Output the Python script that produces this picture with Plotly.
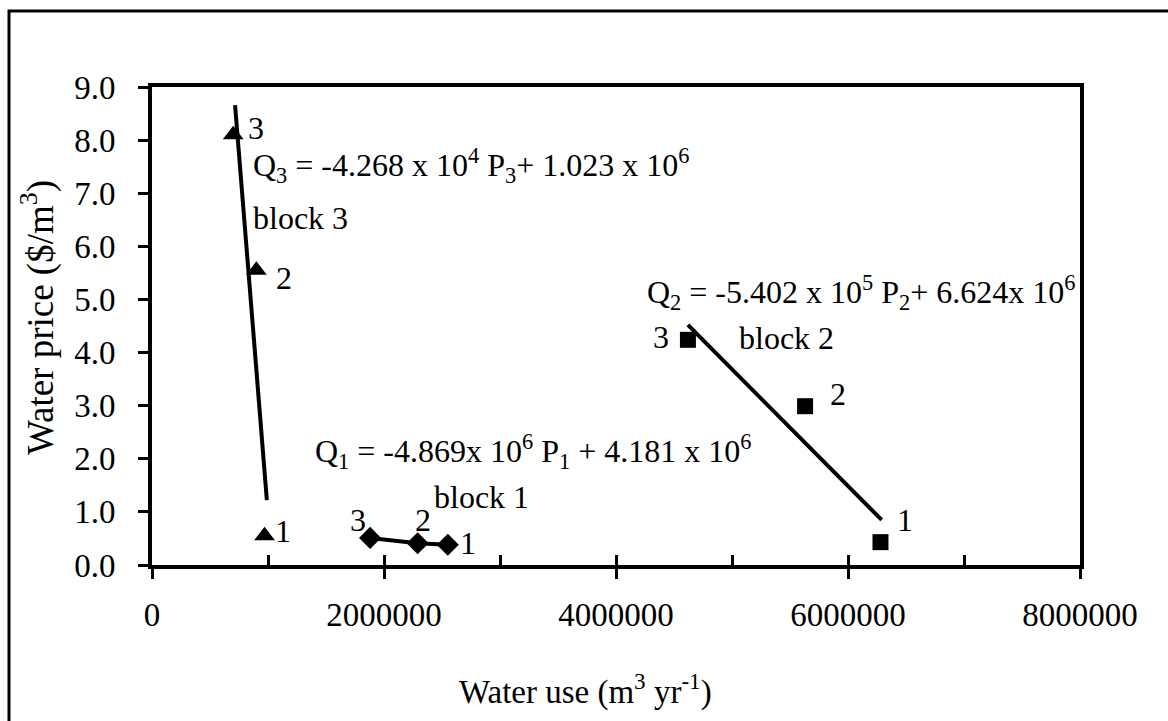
import plotly.graph_objects as go

# ---- data ----
block3_use = [700000, 900000, 970000]
block3_price = [8.10, 5.55, 0.55]
block2_use = [4620000, 5630000, 6280000]
block2_price = [4.24, 2.99, 0.43]
block1_use = [1880000, 2290000, 2550000]
block1_price = [0.51, 0.41, 0.38]
point_labels = ["3", "2", "1"]

# fitted trend lines (end points)
trend3_use = [716000, 990000]
trend3_price = [8.66, 1.22]
trend2_use = [4620000, 6290000]
trend2_price = [4.52, 0.85]

x_ticks = [0, 2000000, 4000000, 6000000, 8000000]
y_ticks = [0.0, 1.0, 2.0, 3.0, 4.0, 5.0, 6.0, 7.0, 8.0, 9.0]

FONT = "Liberation Serif"

fig = go.Figure()

line_style = dict(color="black", width=4)
fig.add_trace(go.Scatter(x=trend3_use, y=trend3_price, mode="lines", line=line_style, showlegend=False))
fig.add_trace(go.Scatter(x=trend2_use, y=trend2_price, mode="lines", line=line_style, showlegend=False))
fig.add_trace(go.Scatter(x=block1_use, y=block1_price, mode="lines+markers", line=line_style,
                         marker=dict(symbol="diamond", size=17, color="black"), showlegend=False))
fig.add_trace(go.Scatter(x=block3_use, y=block3_price, mode="markers",
                         marker=dict(symbol="triangle-up", size=18, color="black"), showlegend=False))
fig.add_trace(go.Scatter(x=block2_use, y=block2_price, mode="markers",
                         marker=dict(symbol="square", size=16, color="black"), showlegend=False))
# helper trace for the inner minor tick axis
fig.add_trace(go.Scatter(x=[None], y=[None], xaxis="x2", showlegend=False, hoverinfo="skip"))

ann_font = dict(family=FONT, size=32, color="black")
annotations = []

def txt(x, y, text, xanchor="left"):
    annotations.append(dict(x=x, y=y, xref="x", yref="y", text=text, showarrow=False,
                            xanchor=xanchor, yanchor="middle", font=ann_font))

# point labels
pos3 = [(897000, 8.23), (1140000, 5.40), (1130000, 0.64)]
pos2 = [(4390000, 4.29), (5910000, 3.22), (6490000, 0.85)]
pos1 = [(1780000, 0.85), (2340000, 0.85), (2720000, 0.41)]
for lab, (x, y) in zip(point_labels, pos3):
    txt(x, y, lab, "center")
for lab, (x, y) in zip(point_labels, pos2):
    txt(x, y, lab, "center")
for lab, (x, y) in zip(point_labels, pos1):
    txt(x, y, lab, "center")

txt(853000, 7.53, "Q<sub>3</sub> = -4.268 x 10<sup>4</sup> P<sub>3</sub>+ 1.023 x 10<sup>6</sup>")
txt(853000, 6.53, "block 3")
txt(4250000, 5.14, "Q<sub>2</sub> = -5.402 x 10<sup>5</sup> P<sub>2</sub>+ 6.624x 10<sup>6</sup>")
txt(5040000, 4.27, "block 2")
txt(1390000, 2.13, "Q<sub>1</sub> = -4.869x 10<sup>6</sup> P<sub>1</sub> + 4.181 x 10<sup>6</sup>")
txt(2410000, 1.28, "block 1")

# axis titles
annotations.append(dict(x=(585 - 152) / 928, y=(565 - 690) / 478, xref="paper", yref="paper",
                        text="Water use (m<sup>3</sup> yr<sup>-1</sup>)", showarrow=False,
                        xanchor="center", yanchor="middle",
                        font=dict(family=FONT, size=33, color="black")))
annotations.append(dict(x=(38 - 152) / 928, y=(565 - 318) / 478, xref="paper", yref="paper",
                        text="Water price ($/m<sup>3</sup>)", showarrow=False, textangle=-90,
                        xanchor="center", yanchor="middle",
                        font=dict(family=FONT, size=37, color="black")))

fig.update_layout(
    width=1168, height=721,
    margin=dict(l=152, r=88, t=87, b=156),
    paper_bgcolor="white", plot_bgcolor="white",
    font=dict(family=FONT, color="black"),
    annotations=annotations,
    xaxis=dict(
        range=[0, 8000000], tickvals=x_ticks, ticktext=[str(v) for v in x_ticks],
        ticks="outside", ticklen=10, tickwidth=3, tickcolor="black",
        showline=True, linewidth=4, linecolor="black", mirror=True,
        showgrid=False, zeroline=False,
        tickfont=dict(family=FONT, size=33, color="black"),
        ticklabelstandoff=7,
    ),
    xaxis2=dict(
        range=[0, 8000000], overlaying="x", side="bottom", anchor="y",
        dtick=1000000, tick0=0, ticks="inside", ticklen=10, tickwidth=3, tickcolor="black",
        showticklabels=False, showline=False, showgrid=False, zeroline=False,
    ),
    yaxis=dict(
        range=[0, 9], tickvals=y_ticks, ticktext=[f"{v:.1f}" for v in y_ticks],
        ticks="outside", ticklen=10, tickwidth=3, tickcolor="black",
        showline=True, linewidth=4, linecolor="black", mirror=True,
        showgrid=False, zeroline=False,
        tickfont=dict(family=FONT, size=33, color="black"),
        ticklabelstandoff=16,
    ),
    shapes=[dict(type="rect", xref="paper", yref="paper",
                 x0=(9 - 152) / 928, x1=1.25, y0=-0.5, y1=(565 - 11) / 478,
                 line=dict(color="black", width=3), fillcolor="rgba(0,0,0,0)", layer="below")],
)

fig.write_html("out.html")
